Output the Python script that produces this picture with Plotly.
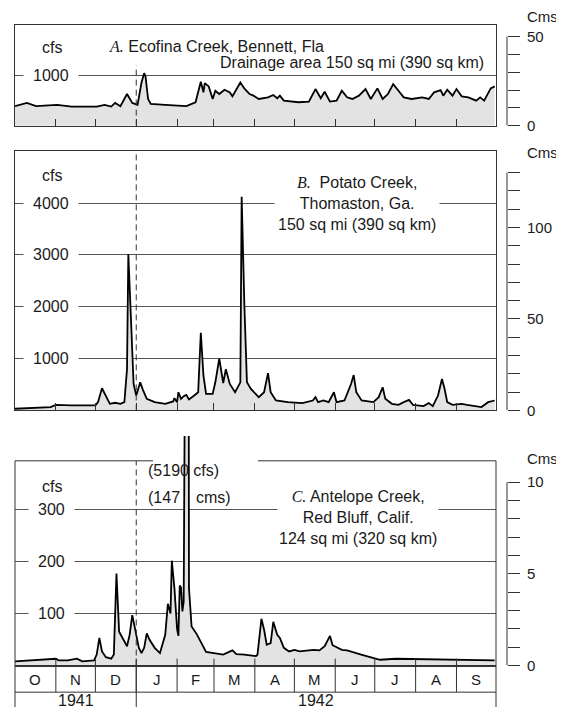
import pandas as pd
import plotly.graph_objects as go

# The page places the figure 8 px from the window's top-left corner (body margin);
# the figure is sized so the page does not overflow the 564 x 723 window, and all
# reference pixel positions are shifted by that 8 px offset.
OFF = 8
W, H = 564 - OFF, 723 - 2 * OFF
CFS_TO_CMS = 0.0283168
START = pd.Timestamp("1941-10-01")

# ---------------- data (day of water year 1942, flow in cfs) ----------------
a_days = [0, 9, 16, 32, 43, 62, 68, 73, 76, 80, 85, 89, 93, 96, 98, 99, 101, 103, 114, 130,
          137, 141, 143, 144, 147, 150, 152, 155, 159, 163, 165, 171, 174, 178, 181, 185, 192,
          196, 199, 201, 204, 215, 223, 228, 232, 235, 239, 244, 248, 252, 256, 261, 266, 270,
          275, 279, 283, 287, 291, 295, 301, 305, 309, 314, 318, 323, 325, 328, 332, 335, 339,
          344, 350, 353, 356, 361, 364]
a_cfs = [386, 451, 386, 412, 379, 379, 412, 379, 451, 386, 627, 451, 412, 856, 1039, 987, 529, 431, 412, 386,
         464, 869, 660, 843, 778, 529, 693, 627, 712, 660, 582, 856, 739, 627, 595, 529, 562,
         608, 543, 595, 497, 464, 477, 726, 543, 673, 477, 497, 693, 562, 529, 595, 726, 529,
         739, 529, 627, 824, 693, 562, 529, 543, 562, 529, 660, 706, 595, 712, 595, 726, 582,
         562, 497, 562, 497, 739, 778]

b_days = [0, 16, 27, 31, 43, 61, 63, 66, 68, 69, 72, 76, 80, 83, 85, 86, 88, 90, 92, 95, 97, 100,
          106, 114, 120, 121, 123, 124, 126, 128, 130, 132, 136, 139, 141, 143, 145, 150, 152,
          155, 158, 160, 163, 167, 171, 172, 174, 176, 179, 185, 189, 192, 194, 198, 207, 218,
          226, 228, 230, 234, 238, 242, 244, 250, 255, 257, 259, 263, 272, 276, 279, 281, 286,
          291, 295, 299, 302, 310, 314, 317, 321, 324, 326, 328, 332, 339, 343, 354, 359, 364]
b_cfs = [32, 45, 64, 108, 96, 96, 159, 427, 319, 287, 127, 147, 127, 159, 797, 3015, 1689, 510, 287, 542, 402, 223,
         159, 127, 172, 236, 159, 351, 223, 274, 300, 210, 287, 351, 1498, 669, 319, 319, 542,
         1001, 529, 797, 510, 351, 542, 4124, 2072, 542, 414, 255, 351, 720, 351, 191, 159, 140,
         191, 255, 159, 191, 159, 351, 159, 191, 510, 682, 351, 191, 159, 255, 446, 223, 127,
         108, 159, 204, 108, 83, 140, 83, 287, 606, 414, 159, 108, 127, 108, 64, 159, 191]

c_days = [0, 16, 31, 33, 40, 47, 51, 60, 62, 64, 66, 69, 73, 75, 77, 79, 81, 85, 87, 89, 91, 94,
          96, 98, 100, 102, 106, 110, 114, 116, 118, 119, 121, 123, 124, 125, 126, 127, 128, 129,
          130, 131, 132, 134, 138, 145, 152, 158, 165, 168, 174, 183, 184, 187, 189, 191, 194,
          196, 199, 201, 204, 208, 212, 216, 223, 227, 231, 235, 239, 241, 248, 252, 264, 277,
          289, 316, 343, 364]
c_cfs = [8, 10, 13, 10, 10, 13, 8, 10, 21, 53, 27, 16, 13, 21, 177, 65, 56, 37, 59, 97, 72, 34,
         24, 34, 62, 50, 34, 24, 59, 119, 100, 202, 148, 70, 57, 154, 150, 104, 123, 600,
         5190, 2000, 150, 75, 60, 26, 24, 21, 29, 22, 21, 18, 21, 90, 69, 40, 43,
         84, 59, 53, 34, 27, 30, 27, 29, 30, 29, 37, 57, 39, 30, 29, 20, 11,
         13, 12, 11, 10]

a_cfs_ticks = [1000]
b_cfs_ticks = [1000, 2000, 3000, 4000]
c_cfs_ticks = [100, 200, 300]
a_cms_ticks = [0, 10, 20, 30, 40, 50]
b_cms_ticks = [0, 10, 20, 30, 40, 50, 60, 70, 80, 90, 100, 110, 120, 130]
c_cms_ticks = [0, 1, 2, 3, 4, 5, 6, 7, 8, 9, 10]
a_cms_labeled = [0, 50]
b_cms_labeled = [0, 50, 100]
c_cms_labeled = [0, 5, 10]
month_letters = ["O", "N", "D", "J", "F", "M", "A", "M", "J", "J", "A", "S"]
year_labels = ["1941", "1942"]

SERIF = "<span style='font-family:Liberation Serif'><i>{}</i></span>"
titles = {
    "A1": SERIF.format("A.") + " Ecofina Creek, Bennett, Fla",
    "A2": "Drainage area 150 sq mi (390 sq km)",
    "B": SERIF.format("B.") + "  Potato Creek,<br>Thomaston, Ga.<br>150 sq mi (390 sq km)",
    "C": SERIF.format("C.") + " Antelope Creek,<br>Red Bluff, Calif.<br>124 sq mi (320 sq km)",
}

# ---------------- helpers ----------------
def px_x(x):
    return (x - OFF) / W

def px_y(y):
    return 1 - (y - OFF) / H

def to_dates(days):
    return [START + pd.Timedelta(days=int(d)) for d in days]

END = START + pd.Timedelta(days=365)
month_starts = list(pd.date_range(START, periods=13, freq="MS"))
mid_months = [month_starts[i] + (month_starts[i + 1] - month_starts[i]) / 2 for i in range(12)]
jan1 = pd.Timestamp("1942-01-01")

FONT = "Liberation Sans, Arial, sans-serif"
INK = "#1a1a1a"
GRID = "#555555"
FRAME = "#333333"
FILL = "#e3e3e3"
PADS = "\u2002"

def note(text, x, y, xanchor="center", size=16, **kw):
    d = dict(text=text, xref="paper", yref="paper", x=x, y=y, xanchor=xanchor, yanchor="middle",
             showarrow=False, font=dict(size=size, color=INK))
    d.update(kw)
    return d

XD = [px_x(15), px_x(496)]
panels = {
    "A": dict(days=a_days, cfs=a_cfs, dom=[px_y(127), px_y(25)], rng=[0, 2000], ticks=a_cfs_ticks,
              cms=a_cms_ticks, cmslab=a_cms_labeled, cfs_lab_y=48, cms_lab_y=17, xa="x", ya="y", cya="y4"),
    "B": dict(days=b_days, cfs=b_cfs, dom=[px_y(415), px_y(153)], rng=[0, 5000], ticks=b_cfs_ticks,
              cms=b_cms_ticks, cmslab=b_cms_labeled, cfs_lab_y=177, cms_lab_y=154, xa="x2", ya="y2", cya="y5"),
    "C": dict(days=c_days, cfs=c_cfs, dom=[px_y(673), px_y(441)], rng=[0, 442], ticks=c_cfs_ticks,
              cms=c_cms_ticks, cmslab=c_cms_labeled, cfs_lab_y=492, cms_lab_y=464, xa="x3", ya="y3", cya="y6"),
}

fig = go.Figure()
shapes = []
annotations = []
layout = {}

for key, p in panels.items():
    dates = to_dates(p["days"])
    fig.add_trace(go.Scatter(
        x=dates, y=p["cfs"], mode="lines", fill="tozeroy", fillcolor=FILL,
        line=dict(color="black", width=1.8), xaxis=p["xa"], yaxis=p["ya"],
        showlegend=False, hoverinfo="skip"))
    # same series in cms on the right-hand axis (invisible, carries the Cms scale)
    fig.add_trace(go.Scatter(
        x=dates, y=[v * CFS_TO_CMS for v in p["cfs"]], mode="lines", opacity=0,
        line=dict(width=0), xaxis=p["xa"], yaxis=p["cya"], showlegend=False, hoverinfo="skip"))

    xn = "xaxis" + p["xa"][1:]
    yn = "yaxis" + p["ya"][1:]
    cyn = "yaxis" + p["cya"][1:]
    is_c = key == "C"
    layout[xn] = dict(domain=XD, anchor=p["ya"], type="date", range=[START, END],
                      tickmode="array", tickvals=month_starts, ticks="" if is_c else "inside",
                      ticklen=7, tickcolor=FRAME, showticklabels=False, showgrid=False,
                      zeroline=False, showline=True, linecolor=FRAME,
                      linewidth=2 if is_c else 1, mirror=not is_c)
    layout[yn] = dict(domain=p["dom"], anchor=p["xa"], range=p["rng"], tickmode="array",
                      tickvals=p["ticks"], showticklabels=False, ticks="", showgrid=True,
                      gridcolor=GRID, gridwidth=1, zeroline=False,
                      showline=not is_c, linecolor=FRAME, linewidth=1, mirror=not is_c)
    layout[cyn] = dict(overlaying=p["ya"], anchor="free", position=px_x(507), side="right",
                       range=[r * CFS_TO_CMS for r in p["rng"]], tickmode="array",
                       tickvals=p["cms"],
                       ticktext=[str(t) if t in p["cmslab"] else "" for t in p["cms"]],
                       ticks="outside", ticklen=12, tickcolor=FRAME, tickwidth=1,
                       ticklabelstandoff=4,
                       tickfont=dict(size=15, color=INK), showgrid=False, zeroline=False,
                       showline=False)
    # Cms axis line
    shapes.append(dict(type="line", xref="paper", yref=p["cya"], x0=px_x(507), x1=px_x(507),
                       y0=p["cms"][0], y1=p["cms"][-1], line=dict(color=FRAME, width=1)))
    annotations.append(note("Cms", px_x(525), px_y(p["cms_lab_y"]), xanchor="left", size=15))
    # cfs tick labels sit on the gridlines and interrupt them
    for t in p["ticks"]:
        annotations.append(dict(text=PADS + str(t) + PADS, xref="paper", yref=p["ya"], x=px_x(51), y=t,
                                xanchor="center", yanchor="middle", showarrow=False,
                                bgcolor="white", borderpad=1, font=dict(size=16, color=INK)))
    annotations.append(note("cfs", px_x(52), px_y(p["cfs_lab_y"])))

# dashed line at 1 Jan 1942 through the panels
dash = dict(color=FRAME, width=1, dash="6px,4px")
shapes.append(dict(type="line", xref="x", yref="paper", x0=jan1, x1=jan1, y0=px_y(127), y1=px_y(66), line=dash))
shapes.append(dict(type="line", xref="x2", yref="paper", x0=jan1, x1=jan1, y0=px_y(415), y1=px_y(153), line=dash))
shapes.append(dict(type="line", xref="x3", yref="paper", x0=jan1, x1=jan1, y0=px_y(673), y1=px_y(466), line=dash))
shapes.append(dict(type="line", xref="x3", yref="paper", x0=jan1, x1=jan1, y0=px_y(673), y1=0,
                   line=dict(color=FRAME, width=1)))

# panel C frame (top border broken for the off-scale peak), month row and year row
solid = dict(color=FRAME, width=1)
for x0, x1 in [(15, 153), (258, 496)]:
    shapes.append(dict(type="line", xref="paper", yref="paper", x0=px_x(x0), x1=px_x(x1),
                       y0=px_y(466), y1=px_y(466), line=solid))
for xb in (15, 496):
    shapes.append(dict(type="line", xref="paper", yref="paper", x0=px_x(xb), x1=px_x(xb),
                       y0=px_y(466), y1=0, line=solid))
shapes.append(dict(type="line", xref="paper", yref="paper", x0=px_x(15), x1=px_x(496),
                   y0=px_y(700), y1=px_y(700), line=solid))
for ms in month_starts[1:-1]:
    shapes.append(dict(type="line", xref="x3", yref="paper", x0=ms, x1=ms,
                       y0=px_y(666), y1=px_y(700), line=solid))

for m, lab in zip(mid_months, month_letters):
    annotations.append(dict(text=lab, xref="x3", yref="paper", x=m, y=px_y(687), xanchor="center",
                            yanchor="middle", showarrow=False, font=dict(size=15, color=INK)))
year_spans = [(START, jan1), (jan1, END)]
for (s, e), lab in zip(year_spans, year_labels):
    annotations.append(dict(text=lab, xref="x3", yref="paper", x=s + (e - s) / 2, y=px_y(708),
                            xanchor="center", yanchor="middle", showarrow=False,
                            font=dict(size=16, color=INK)))

# panel titles
annotations.append(note(titles["A1"], px_x(107), px_y(47), xanchor="left"))
annotations.append(note(titles["A2"], px_x(486), px_y(63), xanchor="right"))
annotations.append(note(titles["B"], px_x(357), px_y(206), bgcolor="white", borderpad=3))
annotations.append(note(titles["C"], px_x(358), px_y(523), bgcolor="white", borderpad=1))

# off-scale peak note for Antelope Creek
c_peak = max(c_cfs)
annotations.append(note(f"({c_peak:.0f} cfs)", px_x(146), px_y(476), xanchor="left"))
annotations.append(note(f"({c_peak * CFS_TO_CMS:.0f}\u2002\u2002cms)", px_x(146), px_y(503), xanchor="left"))

fig.update_layout(
    width=W, height=H, autosize=False,
    margin=dict(l=0, r=0, t=0, b=0),
    paper_bgcolor="white", plot_bgcolor="white",
    font=dict(family=FONT, size=16, color=INK),
    shapes=shapes, annotations=annotations,
    **layout,
)

fig.write_html("out.html")
